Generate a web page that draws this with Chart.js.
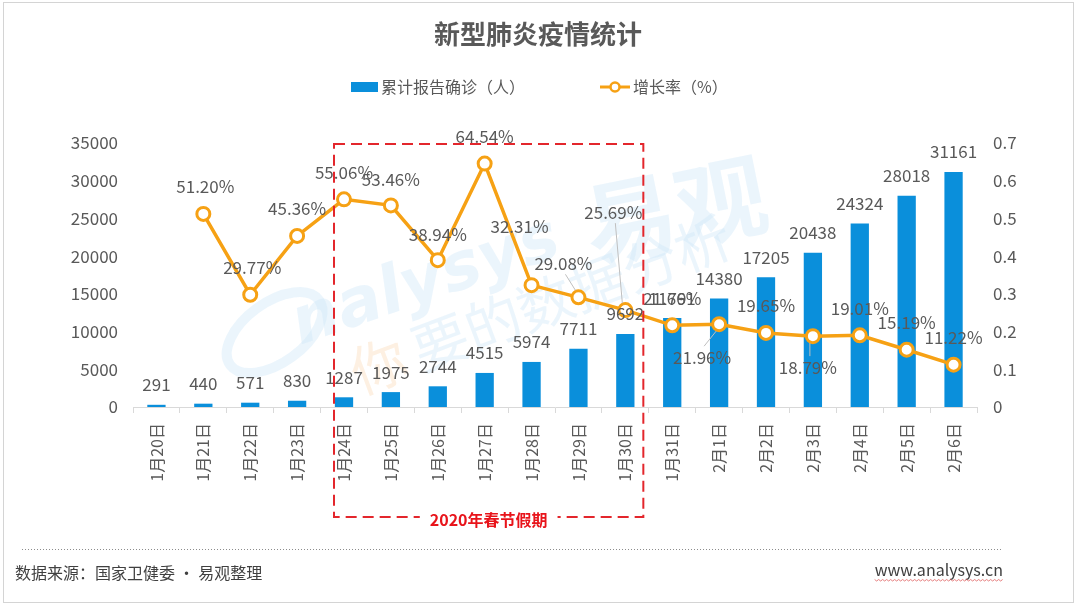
<!DOCTYPE html>
<html><head><meta charset="utf-8">
<script src="https://cdn.jsdelivr.net/npm/chart.js@4/dist/chart.umd.min.js"></script>
<style>html,body{margin:0;padding:0;background:#fff;overflow:hidden}canvas{display:block}</style>
</head><body>
<canvas id="c" width="1080" height="608" style="width:1080px;height:608px"></canvas>
<script>
const categories = ['1月20日','1月21日','1月22日','1月23日','1月24日','1月25日','1月26日','1月27日','1月28日','1月29日','1月30日','1月31日','2月1日','2月2日','2月3日','2月4日','2月5日','2月6日'];
const confirmed = [291,440,571,830,1287,1975,2744,4515,5974,7711,9692,11791,14380,17205,20438,24324,28018,31161];
const growthRate = [null,0.5120,0.2977,0.4536,0.5506,0.5346,0.3894,0.6454,0.3231,0.2908,0.2569,0.2166,0.2196,0.1965,0.1879,0.1901,0.1519,0.1122];
const leftAxisMax = 35000, leftAxisStep = 5000;
const rightAxisMax = 0.7, rightAxisStep = 0.1;
const titleText = '新型肺炎疫情统计';
const barSeriesName = '累计报告确诊（人）';
const lineSeriesName = '增长率（%）';
const holidayText = '2020年春节假期';
const holidayStart = 4, holidayEnd = 10;
const sourceText = '数据来源：国家卫健委 · 易观整理';
const siteText = 'www.analysys.cn';

// label placement offsets (style only, pixels relative to the point)
const lineLabelOffsets = [[0,-27],[2,-27],[2,-27],[0,-27],[0,-27],[0,-26],[0,-26],[0,-27],[-12,-59],[-15,-34],[-12,-98],[0,-27],[-17,33],[0,-27],[-5,31],[0,-27],[0,-27],[0,-27]];
const leaderLines = [false,false,false,false,false,false,false,false,false,true,true,false,true,false,true,false,false,false];

const FONT = '"Noto Sans CJK SC","Noto Sans",sans-serif';
const GREY = '#595959';
const BLUE = '#0A8FDB';
const ORANGE = '#F6A114';

const decor = {
  id: 'decor',
  beforeDatasetsDraw(chart) {
    const ctx = chart.ctx;
    ctx.save();
    ctx.textAlign = 'left'; ctx.textBaseline = 'alphabetic';
    const wm = 'rgba(208,230,247,0.42)';
    ctx.save();
    ctx.translate(592, 262); ctx.rotate(-0.2);
    ctx.fillStyle = wm;
    ctx.font = 'bold 92px ' + FONT;
    ctx.fillText('易观', 0, 0);
    ctx.restore();
    ctx.save();
    ctx.translate(300, 345); ctx.rotate(-0.33);
    ctx.fillStyle = wm;
    ctx.font = 'bold italic 66px "DejaVu Sans",sans-serif';
    ctx.fillText('nalysys', 0, 0);
    ctx.lineWidth = 10; ctx.strokeStyle = wm;
    ctx.beginPath(); ctx.ellipse(-20, -20, 55, 30, -0.3, 0, Math.PI * 2); ctx.stroke();
    ctx.restore();
    ctx.save();
    ctx.translate(360, 395); ctx.rotate(-0.36);
    ctx.font = '56px ' + FONT;
    ctx.fillStyle = 'rgba(250,222,190,0.45)';
    ctx.fillText('你', 0, 0);
    ctx.fillStyle = wm;
    ctx.fillText('要的数据分析', 66, 0);
    ctx.restore();
    ctx.restore();
  },
  afterDatasetsDraw(chart) {
    const ctx = chart.ctx;
    const x = chart.scales.x, y = chart.scales.y, y1 = chart.scales.y1;
    ctx.save();
    ctx.font = '17px ' + FONT;
    ctx.fillStyle = GREY;
    ctx.textAlign = 'center'; ctx.textBaseline = 'middle';
    confirmed.forEach((v, i) => {
      ctx.fillText(String(v), x.getPixelForValue(i), y.getPixelForValue(v) - 20);
    });
    growthRate.forEach((v, i) => {
      if (v === null) return;
      const px = x.getPixelForValue(i), py = y1.getPixelForValue(v);
      const [dx, dy] = lineLabelOffsets[i];
      const lx = px + dx, ly = py + dy;
      if (leaderLines[i]) {
        ctx.save();
        ctx.strokeStyle = '#bfbfbf'; ctx.lineWidth = 1;
        ctx.beginPath();
        ctx.moveTo(lx + 2, ly + (dy < 0 ? 11 : -11));
        ctx.lineTo(px + (dx < 0 ? -3 : 0), py + (dy < 0 ? -7 : 7));
        ctx.stroke();
        ctx.restore();
      }
      ctx.fillText((v * 100).toFixed(2) + '%', lx, ly);
    });
    ctx.restore();
  },
  afterDraw(chart) {
    const ctx = chart.ctx;
    const x = chart.scales.x, y = chart.scales.y;
    ctx.save();
    ctx.strokeStyle = '#d4d4d4'; ctx.lineWidth = 1;
    ctx.strokeRect(3.5, 2.5, 1070, 600);
    ctx.fillStyle = GREY; ctx.textAlign = 'center'; ctx.textBaseline = 'middle';
    ctx.font = 'bold 26px ' + FONT;
    ctx.fillText(titleText, 538, 34);
    ctx.fillStyle = BLUE;
    ctx.fillRect(351, 82, 27, 10);
    ctx.fillStyle = GREY; ctx.textAlign = 'left';
    ctx.font = '16px ' + FONT;
    ctx.fillText(barSeriesName, 381, 87);
    ctx.strokeStyle = ORANGE; ctx.lineWidth = 3;
    ctx.beginPath(); ctx.moveTo(600, 87); ctx.lineTo(630, 87); ctx.stroke();
    ctx.fillStyle = '#fff'; ctx.lineWidth = 2.5;
    ctx.beginPath(); ctx.arc(615, 87, 4.5, 0, Math.PI * 2); ctx.fill(); ctx.stroke();
    ctx.fillStyle = GREY;
    ctx.fillText(lineSeriesName, 633, 87);
    const bx1 = x.getPixelForValue(holidayStart) - 10;
    const bx2 = x.getPixelForValue(holidayEnd) + 18;
    const by1 = y.getPixelForValue(leftAxisMax) + 1;
    const by2 = 517;
    ctx.strokeStyle = '#E3262C'; ctx.lineWidth = 2;
    ctx.setLineDash([11, 6]);
    ctx.strokeRect(bx1, by1, bx2 - bx1, by2 - by1);
    ctx.setLineDash([]);
    ctx.font = 'bold 16px ' + FONT;
    const tw = ctx.measureText(holidayText).width;
    const cx = (bx1 + bx2) / 2;
    ctx.fillStyle = '#fff';
    ctx.fillRect(cx - tw / 2 - 10, by2 - 6, tw + 20, 14);
    ctx.fillStyle = '#E8141B'; ctx.textAlign = 'center';
    ctx.fillText(holidayText, cx, 520);
    ctx.strokeStyle = '#8c8c8c'; ctx.lineWidth = 1;
    ctx.setLineDash([1, 2]);
    ctx.beginPath(); ctx.moveTo(22, 549.5); ctx.lineTo(1003, 549.5); ctx.stroke();
    ctx.setLineDash([]);
    ctx.fillStyle = '#404040'; ctx.textAlign = 'left';
    ctx.font = '16px ' + FONT;
    ctx.fillText(sourceText, 15, 573);
    ctx.textAlign = 'right';
    ctx.fillText(siteText, 1003, 570);
    const sw = ctx.measureText(siteText).width;
    ctx.strokeStyle = '#e06060'; ctx.lineWidth = 0.8;
    ctx.beginPath();
    for (let px = 1003 - sw, k = 0; px <= 1003; px += 2, k++) {
      const py = 580 + (k % 2 ? 1 : -0.5);
      if (k === 0) ctx.moveTo(px, py); else ctx.lineTo(px, py);
    }
    ctx.stroke();
    ctx.restore();
  }
};

new Chart(document.getElementById('c'), {
  data: {
    labels: categories,
    datasets: [
      {
        type: 'line', label: lineSeriesName, data: growthRate, yAxisID: 'y1', order: 1,
        borderColor: ORANGE, borderWidth: 3.5, tension: 0,
        pointRadius: 6.5, pointHoverRadius: 6.5, pointBorderWidth: 3,
        pointBackgroundColor: '#fff', pointBorderColor: ORANGE
      },
      {
        type: 'bar', label: barSeriesName, data: confirmed, yAxisID: 'y', order: 2,
        backgroundColor: BLUE, barPercentage: 0.39, categoryPercentage: 1
      }
    ]
  },
  options: {
    responsive: false, animation: false,
    events: [],
    layout: { padding: { top: 143, left: 0, right: 0, bottom: 0 } },
    plugins: { legend: { display: false }, title: { display: false }, tooltip: { enabled: false } },
    scales: {
      x: {
        type: 'category', offset: true,
        grid: { display: true, drawOnChartArea: false, drawTicks: true, tickLength: 6, color: '#d9d9d9', offset: true },
        border: { display: true, color: '#d9d9d9' },
        ticks: { minRotation: 90, maxRotation: 90, autoSkip: false, padding: 10, color: GREY, font: { size: 16, family: FONT } },
        afterFit: s => { s.height = 201; }
      },
      y: {
        position: 'left', min: 0, max: leftAxisMax,
        grid: { display: false, drawTicks: false }, border: { display: false },
        ticks: { stepSize: leftAxisStep, padding: 15, color: GREY, font: { size: 17, family: FONT },
          callback: v => String(Math.round(v)) },
        afterFit: s => { s.width = 133; }
      },
      y1: {
        position: 'right', min: 0, max: rightAxisMax,
        grid: { display: false, drawTicks: false }, border: { display: false },
        ticks: { stepSize: rightAxisStep, padding: 16, color: GREY, font: { size: 17, family: FONT },
          callback: v => (Math.abs(v) < 1e-9 ? '0' : Number(v).toFixed(1)) },
        afterFit: s => { s.width = 103; }
      }
    }
  },
  plugins: [decor]
});
</script>
</body></html>
